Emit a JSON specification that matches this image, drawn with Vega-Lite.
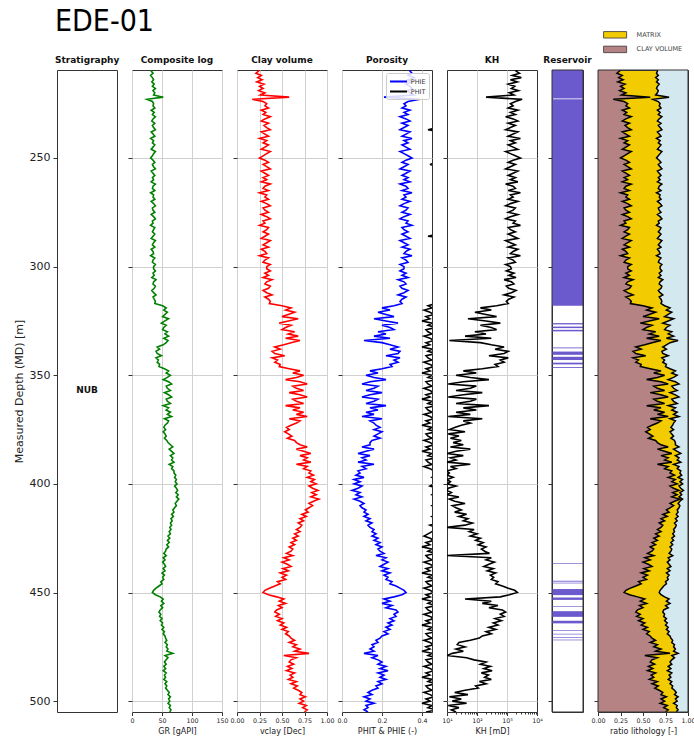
{
"$schema":"https://vega.github.io/schema/vega-lite/v6.json",
"padding":{"left":12,"top":6,"right":4,"bottom":4},
"config":{
 "view":{"stroke":"#333","strokeWidth":1},
 "axis":{"domain":false,"labelFont":"DejaVu Sans","titleFont":"DejaVu Sans","titleFontWeight":"normal","labelColor":"#222","titleColor":"#222","tickColor":"#333","gridColor":"#d0d0d0","gridWidth":1},
 "axisX":{"labelFontSize":6.3,"titleFontSize":8,"tickSize":3.5,"labelPadding":2,"titlePadding":4,"labelFlush":false,"labelOverlap":false},
 "axisY":{"tickSize":4,"labelFontSize":11,"titleFontSize":11,"labelPadding":3},
 "title":{"frame":"group","font":"DejaVu Sans","fontSize":9,"fontWeight":"bold","color":"#111","offset":5},
 "legend":{"labelFont":"DejaVu Sans"}
},
"datasets":{
"strat":[{"zone":"NUB","top":209.5,"base":505,"mid":357}],
"res":[{"top":209.5,"base":222.6},{"top":223.0,"base":318.0},{"top":326.0,"base":326.6},{"top":327.6,"base":328.3},{"top":329.1,"base":329.8},{"top":337.2,"base":337.6},{"top":339.1,"base":340.6},{"top":341.5,"base":343.0},{"top":344.2,"base":345.0},{"top":346.2,"base":346.6},{"top":436.5,"base":436.8},{"top":444.6,"base":445.0},{"top":445.5,"base":445.8},{"top":448.4,"base":451.2},{"top":452.3,"base":453.4},{"top":456.2,"base":456.5},{"top":458.6,"base":461.2},{"top":463.0,"base":464.2},{"top":467.4,"base":467.7},{"top":469.0,"base":469.3},{"top":470.5,"base":470.8},{"top":471.7,"base":472.0}],
"logs":[
{"d":209,"gr":33,"vc":0.25,"pe":0.34,"pt":0.49,"kh":2200},
{"d":210,"gr":32,"vc":0.24,"pe":0.34,"pt":0.50,"kh":2000},
{"d":211,"gr":35,"vc":0.21,"pe":0.35,"pt":0.49,"kh":2600},
{"d":212,"gr":31,"vc":0.27,"pe":0.33,"pt":0.51,"kh":1500},
{"d":213,"gr":34,"vc":0.23,"pe":0.36,"pt":0.48,"kh":3000},
{"d":214,"gr":36,"vc":0.28,"pe":0.33,"pt":0.50,"kh":1300},
{"d":215,"gr":33,"vc":0.22,"pe":0.35,"pt":0.52,"kh":2200},
{"d":216,"gr":37,"vc":0.30,"pe":0.32,"pt":0.49,"kh":1100},
{"d":217,"gr":34,"vc":0.25,"pe":0.34,"pt":0.47,"kh":1800},
{"d":218,"gr":39,"vc":0.29,"pe":0.35,"pt":0.50,"kh":1400},
{"d":219,"gr":35,"vc":0.24,"pe":0.33,"pt":0.51,"kh":2400},
{"d":220,"gr":38,"vc":0.31,"pe":0.34,"pt":0.48,"kh":1200},
{"d":221,"gr":36,"vc":0.26,"pe":0.36,"pt":0.50,"kh":1700},
{"d":222,"gr":52,"vc":0.58,"pe":0.21,"pt":0.47,"kh":200},
{"d":223,"gr":25,"vc":0.17,"pe":0.39,"pt":0.50,"kh":3200},
{"d":224,"gr":34,"vc":0.29,"pe":0.33,"pt":0.48,"kh":1900},
{"d":225,"gr":36,"vc":0.33,"pe":0.31,"pt":0.51,"kh":1300},
{"d":226,"gr":35,"vc":0.31,"pe":0.32,"pt":0.47,"kh":1600},
{"d":227,"gr":38,"vc":0.35,"pe":0.30,"pt":0.52,"kh":1100},
{"d":228,"gr":32,"vc":0.27,"pe":0.34,"pt":0.49,"kh":2300},
{"d":229,"gr":37,"vc":0.32,"pe":0.31,"pt":0.50,"kh":1300},
{"d":230,"gr":34,"vc":0.29,"pe":0.33,"pt":0.47,"kh":1900},
{"d":231,"gr":39,"vc":0.37,"pe":0.29,"pt":0.53,"kh":900},
{"d":232,"gr":35,"vc":0.31,"pe":0.32,"pt":0.48,"kh":1600},
{"d":233,"gr":33,"vc":0.27,"pe":0.34,"pt":0.51,"kh":2300},
{"d":234,"gr":38,"vc":0.35,"pe":0.30,"pt":0.49,"kh":1100},
{"d":235,"gr":34,"vc":0.30,"pe":0.33,"pt":0.50,"kh":1900},
{"d":236,"gr":36,"vc":0.33,"pe":0.31,"pt":0.48,"kh":1300},
{"d":237,"gr":39,"vc":0.37,"pe":0.29,"pt":0.43,"kh":900},
{"d":238,"gr":32,"vc":0.27,"pe":0.34,"pt":0.50,"kh":2300},
{"d":239,"gr":35,"vc":0.31,"pe":0.32,"pt":0.52,"kh":1600},
{"d":240,"gr":38,"vc":0.35,"pe":0.30,"pt":0.49,"kh":1100},
{"d":241,"gr":31,"vc":0.25,"pe":0.35,"pt":0.51,"kh":2800},
{"d":242,"gr":36,"vc":0.33,"pe":0.31,"pt":0.48,"kh":1300},
{"d":243,"gr":34,"vc":0.29,"pe":0.33,"pt":0.50,"kh":1900},
{"d":244,"gr":38,"vc":0.35,"pe":0.30,"pt":0.47,"kh":1100},
{"d":245,"gr":35,"vc":0.31,"pe":0.32,"pt":0.52,"kh":1600},
{"d":246,"gr":32,"vc":0.27,"pe":0.34,"pt":0.49,"kh":2300},
{"d":247,"gr":39,"vc":0.37,"pe":0.29,"pt":0.50,"kh":900},
{"d":248,"gr":36,"vc":0.33,"pe":0.31,"pt":0.48,"kh":1300},
{"d":249,"gr":34,"vc":0.29,"pe":0.33,"pt":0.51,"kh":1900},
{"d":250,"gr":31,"vc":0.25,"pe":0.35,"pt":0.49,"kh":2800},
{"d":251,"gr":35,"vc":0.31,"pe":0.32,"pt":0.50,"kh":1600},
{"d":252,"gr":38,"vc":0.35,"pe":0.30,"pt":0.47,"kh":1100},
{"d":253,"gr":34,"vc":0.29,"pe":0.33,"pt":0.44,"kh":1900},
{"d":254,"gr":36,"vc":0.33,"pe":0.31,"pt":0.51,"kh":1300},
{"d":255,"gr":39,"vc":0.37,"pe":0.29,"pt":0.49,"kh":900},
{"d":256,"gr":32,"vc":0.27,"pe":0.34,"pt":0.52,"kh":2300},
{"d":257,"gr":35,"vc":0.31,"pe":0.32,"pt":0.48,"kh":1600},
{"d":258,"gr":38,"vc":0.35,"pe":0.30,"pt":0.50,"kh":1100},
{"d":259,"gr":34,"vc":0.29,"pe":0.33,"pt":0.47,"kh":1900},
{"d":260,"gr":36,"vc":0.33,"pe":0.31,"pt":0.51,"kh":1300},
{"d":261,"gr":32,"vc":0.27,"pe":0.34,"pt":0.49,"kh":2300},
{"d":262,"gr":39,"vc":0.37,"pe":0.29,"pt":0.50,"kh":900},
{"d":263,"gr":35,"vc":0.31,"pe":0.32,"pt":0.48,"kh":1600},
{"d":264,"gr":34,"vc":0.29,"pe":0.33,"pt":0.52,"kh":1900},
{"d":265,"gr":38,"vc":0.35,"pe":0.30,"pt":0.49,"kh":1100},
{"d":266,"gr":31,"vc":0.25,"pe":0.35,"pt":0.51,"kh":2800},
{"d":267,"gr":36,"vc":0.33,"pe":0.31,"pt":0.47,"kh":1300},
{"d":268,"gr":35,"vc":0.31,"pe":0.32,"pt":0.50,"kh":1600},
{"d":269,"gr":38,"vc":0.35,"pe":0.30,"pt":0.48,"kh":1100},
{"d":270,"gr":32,"vc":0.27,"pe":0.34,"pt":0.51,"kh":2300},
{"d":271,"gr":36,"vc":0.33,"pe":0.31,"pt":0.49,"kh":1300},
{"d":272,"gr":39,"vc":0.37,"pe":0.29,"pt":0.50,"kh":900},
{"d":273,"gr":34,"vc":0.29,"pe":0.33,"pt":0.47,"kh":1900},
{"d":274,"gr":35,"vc":0.31,"pe":0.32,"pt":0.52,"kh":1600},
{"d":275,"gr":38,"vc":0.35,"pe":0.30,"pt":0.49,"kh":1100},
{"d":276,"gr":32,"vc":0.27,"pe":0.34,"pt":0.50,"kh":2300},
{"d":277,"gr":36,"vc":0.33,"pe":0.31,"pt":0.48,"kh":1300},
{"d":278,"gr":39,"vc":0.37,"pe":0.29,"pt":0.51,"kh":900},
{"d":279,"gr":34,"vc":0.29,"pe":0.33,"pt":0.49,"kh":1900},
{"d":280,"gr":35,"vc":0.31,"pe":0.32,"pt":0.50,"kh":1600},
{"d":281,"gr":31,"vc":0.25,"pe":0.35,"pt":0.47,"kh":2800},
{"d":282,"gr":38,"vc":0.35,"pe":0.30,"pt":0.52,"kh":1100},
{"d":283,"gr":36,"vc":0.33,"pe":0.31,"pt":0.49,"kh":1300},
{"d":284,"gr":34,"vc":0.29,"pe":0.33,"pt":0.50,"kh":1900},
{"d":285,"gr":38,"vc":0.35,"pe":0.30,"pt":0.48,"kh":1100},
{"d":286,"gr":35,"vc":0.31,"pe":0.32,"pt":0.43,"kh":1600},
{"d":287,"gr":32,"vc":0.27,"pe":0.34,"pt":0.51,"kh":2300},
{"d":288,"gr":39,"vc":0.37,"pe":0.29,"pt":0.49,"kh":900},
{"d":289,"gr":36,"vc":0.33,"pe":0.31,"pt":0.50,"kh":1300},
{"d":290,"gr":34,"vc":0.29,"pe":0.33,"pt":0.47,"kh":1900},
{"d":291,"gr":38,"vc":0.35,"pe":0.30,"pt":0.52,"kh":1100},
{"d":292,"gr":32,"vc":0.27,"pe":0.34,"pt":0.49,"kh":2300},
{"d":293,"gr":35,"vc":0.31,"pe":0.32,"pt":0.50,"kh":1600},
{"d":294,"gr":36,"vc":0.33,"pe":0.31,"pt":0.48,"kh":1300},
{"d":295,"gr":31,"vc":0.25,"pe":0.35,"pt":0.51,"kh":2800},
{"d":296,"gr":38,"vc":0.35,"pe":0.30,"pt":0.49,"kh":1100},
{"d":297,"gr":35,"vc":0.31,"pe":0.32,"pt":0.50,"kh":1600},
{"d":298,"gr":34,"vc":0.29,"pe":0.33,"pt":0.47,"kh":1900},
{"d":299,"gr":39,"vc":0.37,"pe":0.29,"pt":0.52,"kh":900},
{"d":300,"gr":36,"vc":0.33,"pe":0.31,"pt":0.49,"kh":1300},
{"d":301,"gr":36,"vc":0.33,"pe":0.31,"pt":0.50,"kh":1400},
{"d":302,"gr":39,"vc":0.37,"pe":0.29,"pt":0.48,"kh":950},
{"d":303,"gr":35,"vc":0.31,"pe":0.32,"pt":0.51,"kh":1700},
{"d":304,"gr":37,"vc":0.35,"pe":0.30,"pt":0.47,"kh":1150},
{"d":305,"gr":33,"vc":0.29,"pe":0.33,"pt":0.50,"kh":2000},
{"d":306,"gr":40,"vc":0.39,"pe":0.28,"pt":0.49,"kh":800},
{"d":307,"gr":36,"vc":0.33,"pe":0.31,"pt":0.52,"kh":1400},
{"d":308,"gr":35,"vc":0.31,"pe":0.32,"pt":0.48,"kh":1700},
{"d":309,"gr":39,"vc":0.37,"pe":0.29,"pt":0.50,"kh":950},
{"d":310,"gr":37,"vc":0.35,"pe":0.30,"pt":0.47,"kh":1150},
{"d":311,"gr":33,"vc":0.29,"pe":0.33,"pt":0.51,"kh":2000},
{"d":312,"gr":36,"vc":0.33,"pe":0.31,"pt":0.49,"kh":1400},
{"d":313,"gr":40,"vc":0.39,"pe":0.28,"pt":0.50,"kh":800},
{"d":314,"gr":35,"vc":0.31,"pe":0.32,"pt":0.48,"kh":1700},
{"d":315,"gr":37,"vc":0.35,"pe":0.30,"pt":0.51,"kh":1150},
{"d":316,"gr":39,"vc":0.37,"pe":0.29,"pt":0.49,"kh":950},
{"d":317,"gr":38,"vc":0.36,"pe":0.30,"pt":0.47,"kh":1100},
{"d":318,"gr":51,"vc":0.50,"pe":0.26,"pt":0.43,"kh":450},
{"d":319,"gr":57,"vc":0.60,"pe":0.20,"pt":0.45,"kh":130},
{"d":320,"gr":53,"vc":0.54,"pe":0.24,"pt":0.41,"kh":300},
{"d":321,"gr":59,"vc":0.64,"pe":0.18,"pt":0.44,"kh":85},
{"d":322,"gr":55,"vc":0.57,"pe":0.22,"pt":0.46,"kh":200},
{"d":323,"gr":51,"vc":0.50,"pe":0.26,"pt":0.42,"kh":450},
{"d":324,"gr":61,"vc":0.68,"pe":0.16,"pt":0.44,"kh":50},
{"d":325,"gr":55,"vc":0.57,"pe":0.22,"pt":0.40,"kh":200},
{"d":326,"gr":49,"vc":0.47,"pe":0.28,"pt":0.45,"kh":600},
{"d":327,"gr":57,"vc":0.60,"pe":0.20,"pt":0.43,"kh":130},
{"d":328,"gr":53,"vc":0.54,"pe":0.24,"pt":0.47,"kh":300},
{"d":329,"gr":51,"vc":0.50,"pe":0.26,"pt":0.42,"kh":450},
{"d":330,"gr":59,"vc":0.64,"pe":0.18,"pt":0.43,"kh":85},
{"d":331,"gr":55,"vc":0.57,"pe":0.22,"pt":0.45,"kh":200},
{"d":332,"gr":61,"vc":0.68,"pe":0.16,"pt":0.41,"kh":40},
{"d":333,"gr":53,"vc":0.54,"pe":0.24,"pt":0.44,"kh":300},
{"d":334,"gr":60,"vc":0.70,"pe":0.11,"pt":0.46,"kh":12},
{"d":335,"gr":57,"vc":0.60,"pe":0.20,"pt":0.42,"kh":130},
{"d":336,"gr":52,"vc":0.52,"pe":0.24,"pt":0.44,"kh":300},
{"d":337,"gr":42,"vc":0.42,"pe":0.28,"pt":0.40,"kh":800},
{"d":338,"gr":46,"vc":0.48,"pe":0.24,"pt":0.45,"kh":400},
{"d":339,"gr":40,"vc":0.39,"pe":0.29,"pt":0.43,"kh":1100},
{"d":340,"gr":42,"vc":0.42,"pe":0.28,"pt":0.47,"kh":800},
{"d":341,"gr":49,"vc":0.53,"pe":0.22,"pt":0.42,"kh":250},
{"d":342,"gr":40,"vc":0.39,"pe":0.29,"pt":0.43,"kh":1100},
{"d":343,"gr":44,"vc":0.45,"pe":0.26,"pt":0.45,"kh":600},
{"d":344,"gr":42,"vc":0.42,"pe":0.28,"pt":0.41,"kh":800},
{"d":345,"gr":46,"vc":0.48,"pe":0.24,"pt":0.44,"kh":400},
{"d":346,"gr":45,"vc":0.47,"pe":0.25,"pt":0.46,"kh":500},
{"d":347,"gr":54,"vc":0.58,"pe":0.20,"pt":0.42,"kh":150},
{"d":348,"gr":61,"vc":0.70,"pe":0.14,"pt":0.44,"kh":35},
{"d":349,"gr":57,"vc":0.62,"pe":0.18,"pt":0.40,"kh":95},
{"d":350,"gr":64,"vc":0.74,"pe":0.12,"pt":0.45,"kh":20},
{"d":351,"gr":59,"vc":0.66,"pe":0.16,"pt":0.43,"kh":60},
{"d":352,"gr":52,"vc":0.54,"pe":0.22,"pt":0.47,"kh":250},
{"d":353,"gr":61,"vc":0.70,"pe":0.14,"pt":0.42,"kh":35},
{"d":354,"gr":66,"vc":0.78,"pe":0.10,"pt":0.43,"kh":11},
{"d":355,"gr":57,"vc":0.62,"pe":0.18,"pt":0.45,"kh":95},
{"d":356,"gr":59,"vc":0.66,"pe":0.16,"pt":0.41,"kh":60},
{"d":357,"gr":64,"vc":0.74,"pe":0.12,"pt":0.44,"kh":20},
{"d":358,"gr":54,"vc":0.58,"pe":0.20,"pt":0.46,"kh":150},
{"d":359,"gr":61,"vc":0.70,"pe":0.14,"pt":0.42,"kh":35},
{"d":360,"gr":66,"vc":0.78,"pe":0.10,"pt":0.44,"kh":11},
{"d":361,"gr":57,"vc":0.62,"pe":0.18,"pt":0.40,"kh":95},
{"d":362,"gr":59,"vc":0.66,"pe":0.16,"pt":0.45,"kh":60},
{"d":363,"gr":64,"vc":0.74,"pe":0.12,"pt":0.43,"kh":20},
{"d":364,"gr":52,"vc":0.54,"pe":0.22,"pt":0.47,"kh":250},
{"d":365,"gr":61,"vc":0.70,"pe":0.14,"pt":0.42,"kh":35},
{"d":366,"gr":57,"vc":0.62,"pe":0.18,"pt":0.43,"kh":95},
{"d":367,"gr":64,"vc":0.74,"pe":0.12,"pt":0.45,"kh":20},
{"d":368,"gr":59,"vc":0.66,"pe":0.16,"pt":0.41,"kh":60},
{"d":369,"gr":66,"vc":0.78,"pe":0.10,"pt":0.44,"kh":11},
{"d":370,"gr":54,"vc":0.58,"pe":0.20,"pt":0.46,"kh":150},
{"d":371,"gr":61,"vc":0.70,"pe":0.14,"pt":0.42,"kh":35},
{"d":372,"gr":59,"vc":0.66,"pe":0.16,"pt":0.44,"kh":60},
{"d":373,"gr":55,"vc":0.60,"pe":0.17,"pt":0.40,"kh":30},
{"d":374,"gr":53,"vc":0.55,"pe":0.19,"pt":0.45,"kh":18},
{"d":375,"gr":56,"vc":0.58,"pe":0.16,"pt":0.43,"kh":12},
{"d":376,"gr":52,"vc":0.53,"pe":0.20,"pt":0.47,"kh":40},
{"d":377,"gr":55,"vc":0.57,"pe":0.18,"pt":0.42,"kh":11},
{"d":378,"gr":57,"vc":0.61,"pe":0.16,"pt":0.43,"kh":25},
{"d":379,"gr":54,"vc":0.56,"pe":0.19,"pt":0.45,"kh":13},
{"d":380,"gr":58,"vc":0.64,"pe":0.15,"pt":0.41,"kh":30},
{"d":381,"gr":60,"vc":0.66,"pe":0.14,"pt":0.44,"kh":16},
{"d":382,"gr":64,"vc":0.70,"pe":0.14,"pt":0.46,"kh":35},
{"d":383,"gr":68,"vc":0.78,"pe":0.10,"pt":0.42,"kh":13},
{"d":384,"gr":62,"vc":0.66,"pe":0.16,"pt":0.44,"kh":60},
{"d":385,"gr":66,"vc":0.74,"pe":0.12,"pt":0.40,"kh":20},
{"d":386,"gr":70,"vc":0.82,"pe":0.08,"pt":0.45,"kh":10},
{"d":387,"gr":64,"vc":0.70,"pe":0.14,"pt":0.43,"kh":35},
{"d":388,"gr":68,"vc":0.78,"pe":0.10,"pt":0.47,"kh":13},
{"d":389,"gr":66,"vc":0.74,"pe":0.12,"pt":0.42,"kh":20},
{"d":390,"gr":70,"vc":0.82,"pe":0.08,"pt":0.43,"kh":10},
{"d":391,"gr":62,"vc":0.66,"pe":0.16,"pt":0.45,"kh":60},
{"d":392,"gr":68,"vc":0.78,"pe":0.10,"pt":0.41,"kh":13},
{"d":393,"gr":66,"vc":0.74,"pe":0.12,"pt":0.44,"kh":20},
{"d":394,"gr":70,"vc":0.82,"pe":0.08,"pt":0.46,"kh":10},
{"d":395,"gr":70,"vc":0.80,"pe":0.09,"pt":0.46,"kh":12},
{"d":396,"gr":73,"vc":0.85,"pe":0.07,"pt":0.48,"kh":10},
{"d":397,"gr":71,"vc":0.78,"pe":0.11,"pt":0.45,"kh":16},
{"d":398,"gr":74,"vc":0.86,"pe":0.06,"pt":0.47,"kh":10},
{"d":399,"gr":72,"vc":0.82,"pe":0.09,"pt":0.49,"kh":13},
{"d":400,"gr":75,"vc":0.88,"pe":0.06,"pt":0.46,"kh":10},
{"d":401,"gr":71,"vc":0.80,"pe":0.10,"pt":0.44,"kh":20},
{"d":402,"gr":74,"vc":0.84,"pe":0.08,"pt":0.48,"kh":11},
{"d":403,"gr":76,"vc":0.90,"pe":0.05,"pt":0.46,"kh":10},
{"d":404,"gr":73,"vc":0.83,"pe":0.09,"pt":0.47,"kh":14},
{"d":405,"gr":77,"vc":0.88,"pe":0.07,"pt":0.45,"kh":10},
{"d":406,"gr":74,"vc":0.82,"pe":0.10,"pt":0.48,"kh":25},
{"d":407,"gr":78,"vc":0.91,"pe":0.06,"pt":0.46,"kh":12},
{"d":408,"gr":75,"vc":0.85,"pe":0.09,"pt":0.49,"kh":18},
{"d":409,"gr":72,"vc":0.80,"pe":0.11,"pt":0.47,"kh":40},
{"d":410,"gr":74,"vc":0.84,"pe":0.09,"pt":0.45,"kh":15},
{"d":411,"gr":71,"vc":0.80,"pe":0.10,"pt":0.48,"kh":20},
{"d":412,"gr":68,"vc":0.76,"pe":0.12,"pt":0.46,"kh":30},
{"d":413,"gr":70,"vc":0.79,"pe":0.11,"pt":0.47,"kh":18},
{"d":414,"gr":66,"vc":0.72,"pe":0.13,"pt":0.49,"kh":45},
{"d":415,"gr":69,"vc":0.77,"pe":0.11,"pt":0.45,"kh":25},
{"d":416,"gr":65,"vc":0.70,"pe":0.14,"pt":0.47,"kh":50},
{"d":417,"gr":67,"vc":0.74,"pe":0.12,"pt":0.46,"kh":35},
{"d":418,"gr":64,"vc":0.68,"pe":0.15,"pt":0.48,"kh":70},
{"d":419,"gr":66,"vc":0.72,"pe":0.13,"pt":0.44,"kh":40},
{"d":420,"gr":63,"vc":0.70,"pe":0.14,"pt":0.47,"kh":10},
{"d":421,"gr":65,"vc":0.66,"pe":0.16,"pt":0.46,"kh":80},
{"d":422,"gr":62,"vc":0.70,"pe":0.15,"pt":0.45,"kh":55},
{"d":423,"gr":64,"vc":0.64,"pe":0.17,"pt":0.43,"kh":100},
{"d":424,"gr":60,"vc":0.68,"pe":0.15,"pt":0.41,"kh":60},
{"d":425,"gr":63,"vc":0.62,"pe":0.18,"pt":0.44,"kh":130},
{"d":426,"gr":59,"vc":0.66,"pe":0.16,"pt":0.46,"kh":90},
{"d":427,"gr":62,"vc":0.60,"pe":0.19,"pt":0.42,"kh":160},
{"d":428,"gr":58,"vc":0.64,"pe":0.17,"pt":0.44,"kh":110},
{"d":429,"gr":61,"vc":0.58,"pe":0.20,"pt":0.40,"kh":200},
{"d":430,"gr":57,"vc":0.62,"pe":0.18,"pt":0.45,"kh":140},
{"d":431,"gr":56,"vc":0.60,"pe":0.19,"pt":0.43,"kh":180},
{"d":432,"gr":53,"vc":0.55,"pe":0.21,"pt":0.47,"kh":260},
{"d":433,"gr":57,"vc":0.62,"pe":0.17,"pt":0.42,"kh":10},
{"d":434,"gr":52,"vc":0.52,"pe":0.22,"pt":0.43,"kh":300},
{"d":435,"gr":55,"vc":0.58,"pe":0.20,"pt":0.45,"kh":200},
{"d":436,"gr":51,"vc":0.50,"pe":0.23,"pt":0.41,"kh":380},
{"d":437,"gr":54,"vc":0.56,"pe":0.21,"pt":0.44,"kh":250},
{"d":438,"gr":56,"vc":0.60,"pe":0.19,"pt":0.46,"kh":170},
{"d":439,"gr":52,"vc":0.51,"pe":0.23,"pt":0.42,"kh":350},
{"d":440,"gr":55,"vc":0.57,"pe":0.20,"pt":0.44,"kh":220},
{"d":441,"gr":50,"vc":0.48,"pe":0.24,"pt":0.40,"kh":420},
{"d":442,"gr":54,"vc":0.55,"pe":0.21,"pt":0.45,"kh":280},
{"d":443,"gr":51,"vc":0.50,"pe":0.23,"pt":0.43,"kh":360},
{"d":444,"gr":53,"vc":0.54,"pe":0.22,"pt":0.47,"kh":300},
{"d":445,"gr":48,"vc":0.45,"pe":0.25,"pt":0.42,"kh":500},
{"d":446,"gr":50,"vc":0.48,"pe":0.24,"pt":0.43,"kh":420},
{"d":447,"gr":45,"vc":0.42,"pe":0.27,"pt":0.45,"kh":700},
{"d":448,"gr":40,"vc":0.36,"pe":0.29,"pt":0.41,"kh":1100},
{"d":449,"gr":36,"vc":0.31,"pe":0.31,"pt":0.44,"kh":1800},
{"d":450,"gr":34,"vc":0.29,"pe":0.32,"pt":0.46,"kh":2200},
{"d":451,"gr":39,"vc":0.35,"pe":0.30,"pt":0.42,"kh":1200},
{"d":452,"gr":47,"vc":0.44,"pe":0.26,"pt":0.44,"kh":600},
{"d":453,"gr":52,"vc":0.52,"pe":0.21,"pt":0.40,"kh":40},
{"d":454,"gr":49,"vc":0.47,"pe":0.24,"pt":0.45,"kh":300},
{"d":455,"gr":53,"vc":0.54,"pe":0.20,"pt":0.43,"kh":150},
{"d":456,"gr":48,"vc":0.46,"pe":0.25,"pt":0.47,"kh":500},
{"d":457,"gr":51,"vc":0.50,"pe":0.22,"pt":0.42,"kh":250},
{"d":458,"gr":47,"vc":0.44,"pe":0.27,"pt":0.43,"kh":700},
{"d":459,"gr":45,"vc":0.42,"pe":0.28,"pt":0.45,"kh":900},
{"d":460,"gr":48,"vc":0.47,"pe":0.26,"pt":0.41,"kh":600},
{"d":461,"gr":46,"vc":0.43,"pe":0.27,"pt":0.44,"kh":800},
{"d":462,"gr":50,"vc":0.50,"pe":0.24,"pt":0.46,"kh":400},
{"d":463,"gr":47,"vc":0.45,"pe":0.26,"pt":0.42,"kh":650},
{"d":464,"gr":51,"vc":0.52,"pe":0.23,"pt":0.44,"kh":350},
{"d":465,"gr":49,"vc":0.48,"pe":0.25,"pt":0.40,"kh":500},
{"d":466,"gr":53,"vc":0.55,"pe":0.22,"pt":0.45,"kh":250},
{"d":467,"gr":50,"vc":0.50,"pe":0.24,"pt":0.43,"kh":420},
{"d":468,"gr":54,"vc":0.57,"pe":0.21,"pt":0.47,"kh":200},
{"d":469,"gr":52,"vc":0.54,"pe":0.23,"pt":0.42,"kh":300},
{"d":470,"gr":55,"vc":0.58,"pe":0.20,"pt":0.43,"kh":150},
{"d":471,"gr":56,"vc":0.60,"pe":0.19,"pt":0.45,"kh":120},
{"d":472,"gr":58,"vc":0.64,"pe":0.17,"pt":0.41,"kh":60},
{"d":473,"gr":55,"vc":0.58,"pe":0.18,"pt":0.44,"kh":25},
{"d":474,"gr":59,"vc":0.66,"pe":0.15,"pt":0.46,"kh":22},
{"d":475,"gr":57,"vc":0.62,"pe":0.16,"pt":0.42,"kh":40},
{"d":476,"gr":60,"vc":0.70,"pe":0.14,"pt":0.44,"kh":20},
{"d":477,"gr":58,"vc":0.64,"pe":0.16,"pt":0.40,"kh":35},
{"d":478,"gr":68,"vc":0.80,"pe":0.11,"pt":0.45,"kh":15},
{"d":479,"gr":55,"vc":0.52,"pe":0.18,"pt":0.43,"kh":10},
{"d":480,"gr":60,"vc":0.66,"pe":0.15,"pt":0.47,"kh":45},
{"d":481,"gr":57,"vc":0.60,"pe":0.18,"pt":0.42,"kh":80},
{"d":482,"gr":54,"vc":0.58,"pe":0.20,"pt":0.43,"kh":200},
{"d":483,"gr":57,"vc":0.63,"pe":0.18,"pt":0.45,"kh":130},
{"d":484,"gr":53,"vc":0.56,"pe":0.22,"pt":0.41,"kh":280},
{"d":485,"gr":56,"vc":0.61,"pe":0.19,"pt":0.44,"kh":170},
{"d":486,"gr":52,"vc":0.55,"pe":0.23,"pt":0.46,"kh":320},
{"d":487,"gr":57,"vc":0.64,"pe":0.18,"pt":0.42,"kh":140},
{"d":488,"gr":54,"vc":0.59,"pe":0.21,"pt":0.44,"kh":240},
{"d":489,"gr":56,"vc":0.62,"pe":0.19,"pt":0.40,"kh":180},
{"d":490,"gr":53,"vc":0.57,"pe":0.22,"pt":0.45,"kh":300},
{"d":491,"gr":58,"vc":0.66,"pe":0.18,"pt":0.43,"kh":120},
{"d":492,"gr":55,"vc":0.60,"pe":0.20,"pt":0.47,"kh":200},
{"d":493,"gr":58,"vc":0.67,"pe":0.17,"pt":0.42,"kh":90},
{"d":494,"gr":56,"vc":0.63,"pe":0.18,"pt":0.43,"kh":110},
{"d":495,"gr":59,"vc":0.68,"pe":0.15,"pt":0.45,"kh":40},
{"d":496,"gr":62,"vc":0.72,"pe":0.13,"pt":0.41,"kh":18},
{"d":497,"gr":60,"vc":0.70,"pe":0.15,"pt":0.44,"kh":50},
{"d":498,"gr":64,"vc":0.76,"pe":0.11,"pt":0.46,"kh":12},
{"d":499,"gr":61,"vc":0.70,"pe":0.14,"pt":0.42,"kh":30},
{"d":500,"gr":63,"vc":0.74,"pe":0.12,"pt":0.44,"kh":15},
{"d":501,"gr":60,"vc":0.69,"pe":0.16,"pt":0.40,"kh":45},
{"d":502,"gr":64,"vc":0.77,"pe":0.12,"pt":0.45,"kh":11},
{"d":503,"gr":62,"vc":0.73,"pe":0.13,"pt":0.43,"kh":25},
{"d":504,"gr":65,"vc":0.78,"pe":0.11,"pt":0.47,"kh":14},
{"d":505,"gr":63,"vc":0.75,"pe":0.13,"pt":0.42,"kh":20}
]},
"hconcat":[
 {"width":60,"height":642,
  "title":{"text":"EDE-01","subtitle":"Stratigraphy","anchor":"start","frame":"group","font":"DejaVu Sans Condensed, DejaVu Sans","fontSize":30,"fontWeight":"normal","color":"#000","subtitleFont":"DejaVu Sans","subtitleFontSize":9,"subtitleFontWeight":"bold","subtitleColor":"#111","subtitlePadding":19,"offset":5,"dx":-2},
  "data":{"name":"strat"},
  "mark":{"type":"text","font":"DejaVu Sans","fontWeight":"bold","fontSize":9,"color":"#111"},
  "encoding":{"y":{"field":"mid","type":"quantitative","scale":{"domain":[209.5,505],"reverse":true,"nice":false,"zero":false},"axis":{"values":[250,300,350,400,450,500],"title":"Measured Depth (MD) [m]","titlePadding":5,"grid":false}},"text":{"field":"zone"}}},
 {"width":90,"height":642,"title":"Composite log",
  "data":{"name":"logs"},
  "mark":{"type":"line","color":"green","strokeWidth":1.6,"clip":true},
  "encoding":{
   "x":{"field":"gr","type":"quantitative","scale":{"domain":[0,150],"nice":false},"axis":{"values":[0,50,100,150],"title":"GR [gAPI]","grid":true}},
   "y":{"field":"d","type":"quantitative","scale":{"domain":[209.5,505],"reverse":true,"nice":false,"zero":false},"axis":{"values":[250,300,350,400,450,500],"labels":false,"title":null,"grid":true}},
   "order":{"field":"d","type":"quantitative"}}},
 {"width":90,"height":642,"title":"Clay volume",
  "data":{"name":"logs"},
  "mark":{"type":"line","color":"red","strokeWidth":1.6,"clip":true},
  "encoding":{
   "x":{"field":"vc","type":"quantitative","scale":{"domain":[0,1],"nice":false},"axis":{"values":[0,0.25,0.5,0.75,1],"format":".2f","title":"vclay [Dec]","grid":true}},
   "y":{"field":"d","type":"quantitative","scale":{"domain":[209.5,505],"reverse":true,"nice":false,"zero":false},"axis":{"values":[250,300,350,400,450,500],"labels":false,"title":null,"grid":true}},
   "order":{"field":"d","type":"quantitative"}}},
 {"width":90,"height":642,"title":"Porosity",
  "data":{"name":"logs"},
  "encoding":{"y":{"field":"d","type":"quantitative","scale":{"domain":[209.5,505],"reverse":true,"nice":false,"zero":false},"axis":{"values":[250,300,350,400,450,500],"labels":false,"title":null,"grid":true}},"order":{"field":"d","type":"quantitative"}},
  "layer":[
   {"mark":{"type":"line","strokeWidth":1.6,"clip":true},
    "encoding":{"x":{"field":"pe","type":"quantitative","scale":{"domain":[0,0.45],"nice":false},"axis":{"values":[0,0.2,0.4],"format":".1f","title":"PHIT & PHIE (-)","grid":true}},
     "color":{"datum":"PHIE","scale":{"domain":["PHIE","PHIT"],"range":["blue","black"]},
      "legend":{"orient":"top-right","offset":3,"title":null,"symbolType":"M-1,0H2.8","symbolSize":81,"symbolStrokeWidth":2,"labelFontSize":6.5,"labelColor":"#333","labelOffset":10.8,"padding":3,"rowPadding":0,"fillColor":"rgba(255,255,255,0.85)","strokeColor":"#ccc","cornerRadius":2}}}},
   {"mark":{"type":"line","strokeWidth":1.6,"clip":true},
    "encoding":{"x":{"field":"pt","type":"quantitative","scale":{"domain":[0,0.45],"nice":false},"axis":{"values":[0,0.2,0.4],"format":".1f","title":"PHIT & PHIE (-)","grid":true}},
     "color":{"datum":"PHIT"}}}
  ]},
 {"width":90,"height":642,"title":"KH",
  "data":{"name":"logs"},
  "mark":{"type":"line","color":"black","strokeWidth":1.6,"clip":true},
  "encoding":{
   "x":{"field":"kh","type":"quantitative","scale":{"type":"log","domain":[10,10000],"nice":false},
    "axis":{"values":[10,20,30,40,50,60,70,80,90,100,200,300,400,500,600,700,800,900,1000,2000,3000,4000,5000,6000,7000,8000,9000,10000],
     "labelExpr":"datum.value==10?'10¹':datum.value==100?'10²':datum.value==1000?'10³':datum.value==10000?'10⁴':''",
     "title":"KH [mD]","grid":true,
     "gridOpacity":{"condition":{"test":"datum.value==100||datum.value==1000","value":1},"value":0},
     "tickSize":{"condition":{"test":"datum.value==10||datum.value==100||datum.value==1000||datum.value==10000","value":3.5},"value":2}}},
   "y":{"field":"d","type":"quantitative","scale":{"domain":[209.5,505],"reverse":true,"nice":false,"zero":false},"axis":{"values":[250,300,350,400,450,500],"labels":false,"title":null,"grid":true}},
   "order":{"field":"d","type":"quantitative"}}},
 {"width":31,"height":642,"title":"Reservoir",
  "layer":[
   {"data":{"name":"res"},
    "mark":{"type":"rect","color":"#6a5acd","clip":true},
    "encoding":{
     "y":{"field":"top","type":"quantitative","scale":{"domain":[209.5,505],"reverse":true,"nice":false,"zero":false},"axis":{"values":[250,300,350,400,450,500],"labels":false,"title":null,"grid":false}},
     "y2":{"field":"base"}}},
   {"data":{"name":"strat"},
    "mark":{"type":"rect","filled":false,"stroke":"#333","strokeWidth":1},
    "encoding":{
     "y":{"field":"top","type":"quantitative","scale":{"domain":[209.5,505],"reverse":true,"nice":false,"zero":false},"axis":{"values":[250,300,350,400,450,500],"labels":false,"title":null,"grid":false}},
     "y2":{"field":"base"}}}
  ]},
 {"width":90,"height":642,
  "view":{"fill":"#f2cc00"},
  "encoding":{"y":{"field":"d","type":"quantitative","scale":{"domain":[209.5,505],"reverse":true,"nice":false,"zero":false},"axis":{"values":[250,300,350,400,450,500],"labels":false,"title":null,"grid":false}}},
  "layer":[
   {"data":{"name":"logs"},"mark":{"type":"area","orient":"horizontal","color":"#d4e9ef","clip":true},
    "encoding":{"x":{"field":"pe","type":"quantitative","scale":{"domain":[0,1],"reverse":true,"nice":false},"axis":null},"x2":{"datum":0}}},
   {"data":{"name":"logs"},"mark":{"type":"area","orient":"horizontal","clip":true,"opacity":1},
    "encoding":{"x":{"field":"vc","type":"quantitative","scale":{"domain":[0,1],"nice":false},"axis":{"values":[0,0.25,0.5,0.75,1],"format":".2f","title":"ratio lithology [-]","grid":false}},"x2":{"datum":0},
     "color":{"datum":"CLAY VOLUME","scale":{"domain":["MATRIX","CLAY VOLUME"],"range":["#f2cc00","#b58383"]},
      "legend":{"orient":"none","legendX":9.1,"legendY":-43.2,"title":null,"symbolType":"M-1.6,-0.45H1.6V0.45H-1.6Z","symbolSize":207,"symbolOpacity":1,"symbolStrokeColor":"#333","symbolStrokeWidth":0.8,"labelFontSize":6.5,"labelColor":"#444","labelOffset":13.5,"rowPadding":1.6,"padding":0}}}},
   {"data":{"name":"logs"},"mark":{"type":"line","color":"black","strokeWidth":1.5,"clip":true},
    "encoding":{"x":{"field":"pe","type":"quantitative","scale":{"domain":[0,1],"reverse":true,"nice":false},"axis":null},"order":{"field":"d","type":"quantitative"}}},
   {"data":{"name":"logs"},"mark":{"type":"line","color":"black","strokeWidth":1.5,"clip":true},
    "encoding":{"x":{"field":"vc","type":"quantitative","scale":{"domain":[0,1],"nice":false},"axis":null},"order":{"field":"d","type":"quantitative"}}},
   {"data":{"name":"strat"},"mark":{"type":"rect","filled":false,"stroke":"#333","strokeWidth":1},
    "encoding":{"y":{"field":"top","type":"quantitative"},"y2":{"field":"base"}}}
  ],
  "resolve":{"scale":{"x":"independent"},"axis":{"x":"independent"}}}
],
"spacing":15,
"bounds":"flush",
"resolve":{"scale":{"x":"independent","y":"independent","color":"independent"}}
}
